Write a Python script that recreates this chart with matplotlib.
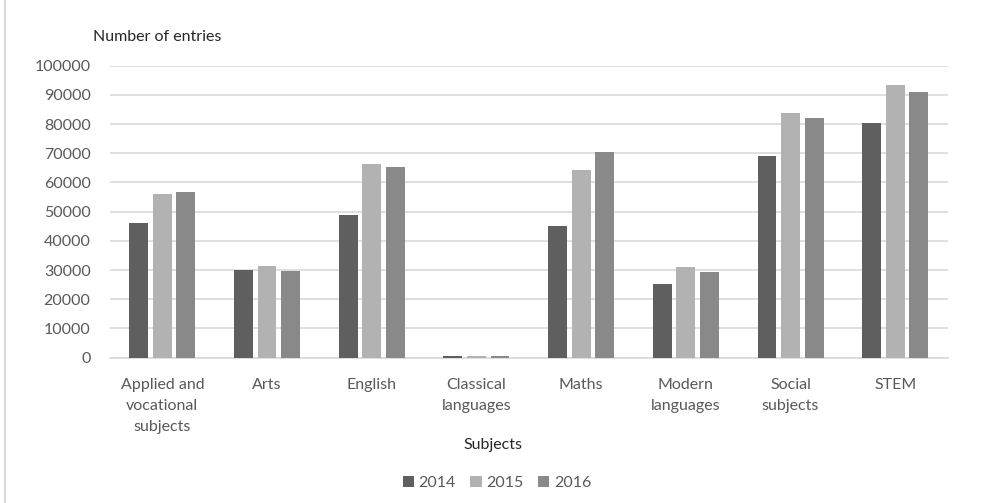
import matplotlib
matplotlib.use("Agg")
import matplotlib.pyplot as plt
import numpy as np

subjects = [
    "Applied and\nvocational\nsubjects",
    "Arts",
    "English",
    "Classical\nlanguages",
    "Maths",
    "Modern\nlanguages",
    "Social\nsubjects",
    "STEM",
]
years = ["2014", "2015", "2016"]
entries_2014 = [46000, 29900, 48700, 700, 45000, 25100, 69200, 80500]
entries_2015 = [56200, 31400, 66400, 600, 64400, 31000, 83800, 93300]
entries_2016 = [56700, 29600, 65400, 650, 70300, 29500, 82000, 91100]
yticks = list(range(0, 100001, 10000))

colors = ["#5f5f5f", "#b2b2b2", "#898989"]
tick_color = "#595959"
grid_color = "#d9d9d9"

plt.rcParams["font.family"] = ["Lato", "DejaVu Sans"]
fs = 11.5

fig = plt.figure(figsize=(9.82, 5.03), dpi=100)
ax = fig.add_axes([0.112, 0.289, 0.853, 0.5804])

x = np.arange(len(subjects))
step = 0.225
width = 0.18
for i, (vals, year) in enumerate(zip([entries_2014, entries_2015, entries_2016], years)):
    ax.bar(x + (i - 1) * step, vals, width, color=colors[i], label=year, zorder=3)

ax.set_xlim(-0.5, len(subjects) - 0.5)
ax.set_ylim(0, 100000)
ax.set_yticks(yticks)
ax.set_yticklabels([str(v) for v in yticks])
ax.set_xticks(x)
ax.set_xticklabels(subjects, linespacing=1.65, va="top")
ax.tick_params(axis="both", length=0, labelsize=fs, colors=tick_color)
ax.tick_params(axis="x", pad=14.5)
ax.tick_params(axis="y", pad=14)
ax.yaxis.grid(True, color=grid_color, lw=1.2, zorder=0)
for side in ["top", "right", "left"]:
    ax.spines[side].set_visible(False)
ax.spines["bottom"].set_color(grid_color)
ax.spines["bottom"].set_linewidth(1.2)

fig.text(93 / 982, 1 - 37 / 503, "Number of entries", fontsize=fs, color="#262626",
         ha="left", va="center")
fig.text(493 / 982, 1 - 445 / 503, "Subjects", fontsize=fs, color="#262626",
         ha="center", va="center")

fig.legend(loc="center", bbox_to_anchor=(497 / 982, 1 - 483 / 503), ncol=3,
           frameon=False, fontsize=fs, handlelength=0.7, handleheight=0.7,
           handletextpad=0.3, columnspacing=0.9, labelcolor=tick_color)

# thin frame line on the left edge, as in the source image
fig.add_artist(plt.Line2D([5 / 982, 5 / 982], [0, 1], color=grid_color, lw=1.5))

fig.savefig("out.png", dpi=100)
